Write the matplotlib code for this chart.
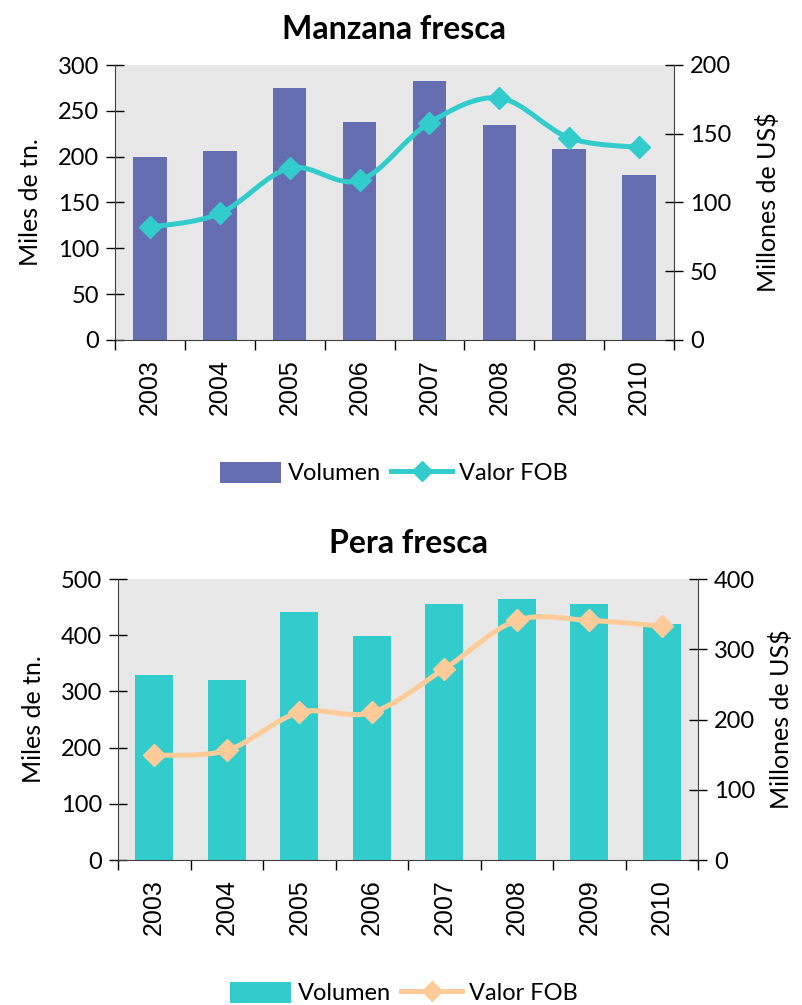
import numpy as np
import matplotlib.pyplot as plt
from matplotlib.path import Path
from matplotlib.patches import PathPatch, Patch
from matplotlib.lines import Line2D

plt.rcParams['font.family'] = ['Lato', 'DejaVu Sans']

years = ['2003', '2004', '2005', '2006', '2007', '2008', '2009', '2010']

# Manzana fresca
manzana_vol = [200, 206, 275, 238, 283, 235, 208, 180]   # miles de tn.
manzana_fob = [82, 92, 125, 116, 158, 176, 147, 140]     # millones de US$

# Pera fresca
pera_vol = [329, 321, 441, 398, 455, 464, 455, 420]
pera_fob = [149, 156, 210, 210, 272, 341, 341, 333]


# smooth curve like the spreadsheet "smoothed line" option
def smooth_path(x, y):
    x = np.asarray(x, float)
    y = np.asarray(y, float)
    n = len(x)
    verts = [(x[0], y[0])]
    codes = [Path.MOVETO]
    for i in range(n - 1):
        p0 = np.array([x[max(i - 1, 0)], y[max(i - 1, 0)]])
        p1 = np.array([x[i], y[i]])
        p2 = np.array([x[i + 1], y[i + 1]])
        p3 = np.array([x[min(i + 2, n - 1)], y[min(i + 2, n - 1)]])
        c1 = p1 + (p2 - p0) / 6.0
        c2 = p2 - (p3 - p1) / 6.0
        verts += [tuple(c1), tuple(c2), tuple(p2)]
        codes += [Path.CURVE4] * 3
    return Path(verts, codes)


def panel(fig, rect, title, vol, fob, ylim1, yt1, ylim2, yt2, bar_col, line_col, bw, leg_xy, rpad):
    ax = fig.add_axes(rect)
    ax.set_facecolor('#e8e8e8')
    x = np.arange(len(years))
    ax.bar(x, vol, width=bw, color=bar_col, zorder=2)
    ax.set_xlim(-0.5, len(years) - 0.5)
    ax.set_ylim(*ylim1)
    ax.set_yticks(yt1)
    ax.set_ylabel('Miles de tn.', fontsize=18, labelpad=11)
    ax.set_title(title, fontsize=23, fontweight='bold', pad=19)
    ax.set_xticks(x)
    ax.set_xticklabels(years, rotation=90, fontsize=18, family='Liberation Sans')
    ax.set_xticks(np.arange(-0.5, len(years)), minor=True)
    ax.tick_params(axis='x', which='major', length=0, pad=14)
    ax.tick_params(axis='x', which='minor', direction='out', length=7, width=1)
    ax.tick_params(axis='y', direction='inout', length=13, width=1, labelsize=17, pad=5)
    ax.spines['top'].set_visible(False)
    ax.spines['right'].set_visible(False)
    for s in ['left', 'bottom']:
        ax.spines[s].set_color('#404040')

    ax2 = ax.twinx()
    ax2.set_ylim(*ylim2)
    ax2.set_yticks(yt2)
    ax2.tick_params(axis='y', direction='inout', length=13, width=1, labelsize=17, pad=5)
    ax2.set_ylabel('Millones de US$', fontsize=18, labelpad=rpad)
    ax2.spines['top'].set_visible(False)
    ax2.spines['left'].set_visible(False)
    ax2.spines['bottom'].set_visible(False)
    ax2.spines['right'].set_color('#404040')
    ax2.add_patch(PathPatch(smooth_path(x, fob), facecolor='none', edgecolor=line_col,
                            lw=3.6, capstyle='round', zorder=3))
    ax2.plot(x, fob, linestyle='none', marker='D', ms=11, color=line_col, zorder=4)

    handles = [Patch(facecolor=bar_col), Line2D([], [], color=line_col, lw=3.6, marker='D', ms=10)]
    fig.legend(handles, ['Volumen', 'Valor FOB'], loc='center', bbox_to_anchor=leg_xy,
               ncol=2, frameon=False, fontsize=17, handlelength=2.6, handleheight=1.0,
               handletextpad=0.3, columnspacing=0.4)
    return ax, ax2


fig = plt.figure(figsize=(8.02, 10.05), dpi=100)

panel(fig, [115 / 802, 1 - 340 / 1005, 559 / 802, 275 / 1005], 'Manzana fresca',
      manzana_vol, manzana_fob, (0, 300), range(0, 301, 50), (0, 200), range(0, 201, 50),
      '#646eb0', '#33cccc', 0.48, (394 / 802, 1 - 473 / 1005), 18)

panel(fig, [118 / 802, 1 - 860 / 1005, 580 / 802, 281 / 1005], 'Pera fresca',
      pera_vol, pera_fob, (0, 500), range(0, 501, 100), (0, 400), range(0, 401, 100),
      '#33cccc', '#ffcc99', 0.52, (404 / 802, 1 - 993 / 1005), 10)

plt.savefig('out.png', dpi=100)
